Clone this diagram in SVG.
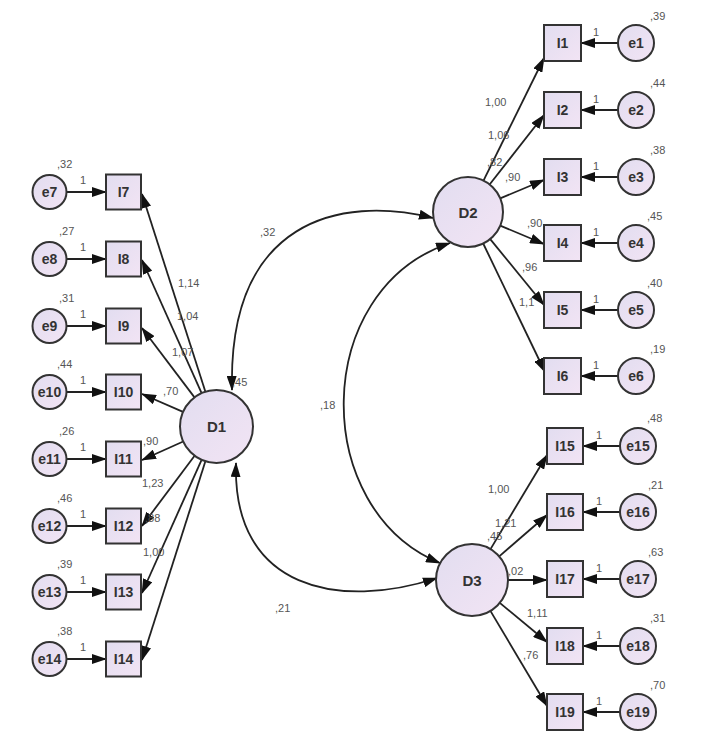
<svg xmlns="http://www.w3.org/2000/svg" width="713" height="737" viewBox="0 0 713 737">
<defs>
<linearGradient id="gf" x1="0" y1="0" x2="1" y2="1">
<stop offset="0" stop-color="#e2ddf0"/>
<stop offset="1" stop-color="#f2e4f4"/>
</linearGradient>
<marker id="ah" markerWidth="15" markerHeight="10" refX="14" refY="5" orient="auto" markerUnits="userSpaceOnUse">
<path d="M0,0 L15,5 L0,10 Z" fill="#111"/>
</marker>
<marker id="ahs" markerWidth="15" markerHeight="10" refX="1" refY="5" orient="auto" markerUnits="userSpaceOnUse">
<path d="M15,0 L0,5 L15,10 Z" fill="#111"/>
</marker>
<style>
.bx{fill:url(#gf);stroke:#333;stroke-width:2}
.ci{fill:url(#gf);stroke:#333;stroke-width:2}
.nl{font-family:"Liberation Sans",Arial,sans-serif;font-size:14px;font-weight:bold;fill:#333;text-anchor:middle;dominant-baseline:central}
.ll{font-family:"Liberation Sans",Arial,sans-serif;font-size:15px;font-weight:bold;fill:#333;text-anchor:middle;dominant-baseline:central}
.lb{font-family:"Liberation Sans",Arial,sans-serif;font-size:11px;fill:#555}
.cn{fill:none;stroke:#222;stroke-width:1.8;marker-end:url(#ah)}
.cv{fill:none;stroke:#222;stroke-width:1.8;marker-end:url(#ah);marker-start:url(#ahs)}
</style>
</defs>
<rect width="713" height="737" fill="#fff"/>

<g id="connectors">
<line class="cn" x1="205.4" y1="391.7" x2="142" y2="194"/>
<line class="cn" x1="201.6" y1="393.2" x2="142" y2="260"/>
<line class="cn" x1="194.5" y1="397.4" x2="142" y2="328"/>
<line class="cn" x1="183" y1="411.9" x2="142" y2="394"/>
<line class="cn" x1="183.2" y1="441.5" x2="142" y2="460"/>
<line class="cn" x1="194.6" y1="455.7" x2="142" y2="526"/>
<line class="cn" x1="201.6" y1="459.8" x2="142" y2="593"/>
<line class="cn" x1="205.4" y1="461.3" x2="142" y2="660"/>
<line class="cn" x1="66.5" y1="192" x2="106" y2="192"/>
<line class="cn" x1="66.5" y1="259" x2="106" y2="259"/>
<line class="cn" x1="66.5" y1="326" x2="106" y2="326"/>
<line class="cn" x1="66.5" y1="392" x2="106" y2="392"/>
<line class="cn" x1="66.5" y1="459" x2="106" y2="459"/>
<line class="cn" x1="66.5" y1="526" x2="106" y2="526"/>
<line class="cn" x1="66.5" y1="592" x2="106" y2="592"/>
<line class="cn" x1="66.5" y1="659" x2="106" y2="659"/>
<line class="cn" x1="483.5" y1="180.6" x2="544" y2="58"/>
<line class="cn" x1="489.6" y1="184.5" x2="544" y2="115"/>
<line class="cn" x1="500.2" y1="198.4" x2="544" y2="180"/>
<line class="cn" x1="500.2" y1="225.6" x2="544" y2="244"/>
<line class="cn" x1="490.2" y1="239.1" x2="544" y2="305"/>
<line class="cn" x1="483.2" y1="243.5" x2="545" y2="372"/>
<line class="cn" x1="490.5" y1="549.1" x2="547" y2="455"/>
<line class="cn" x1="499.2" y1="556.4" x2="547" y2="515"/>
<line class="cn" x1="508" y1="580" x2="547" y2="580"/>
<line class="cn" x1="499.8" y1="602.9" x2="547" y2="642"/>
<line class="cn" x1="490.4" y1="610.9" x2="547" y2="706"/>
<line class="cn" x1="618" y1="43" x2="581" y2="43"/>
<line class="cn" x1="618" y1="110" x2="581" y2="110"/>
<line class="cn" x1="618" y1="177" x2="581" y2="177"/>
<line class="cn" x1="618" y1="243" x2="581" y2="243"/>
<line class="cn" x1="618" y1="310" x2="581" y2="310"/>
<line class="cn" x1="618" y1="376" x2="581" y2="376"/>
<line class="cn" x1="620" y1="446" x2="583" y2="446"/>
<line class="cn" x1="620" y1="512" x2="583" y2="512"/>
<line class="cn" x1="620" y1="579" x2="583" y2="579"/>
<line class="cn" x1="620" y1="646" x2="583" y2="646"/>
<line class="cn" x1="620" y1="712" x2="583" y2="712"/>
<path class="cv" d="M232,390 C228,220 340,195 433,218"/>
<path class="cv" d="M236,463 C232,590 340,610 437,578"/>
<path class="cv" d="M450,243 C310,290 310,510 440,563"/>
</g>

<g id="labels">
<text class="lb" x="178" y="287">1,14</text>
<text class="lb" x="177" y="320">1,04</text>
<text class="lb" x="172" y="356">1,07</text>
<text class="lb" x="163" y="395">,70</text>
<text class="lb" x="143" y="445">,90</text>
<text class="lb" x="142" y="487">1,23</text>
<text class="lb" x="145" y="522">,88</text>
<text class="lb" x="143" y="556">1,00</text>
<text class="lb" x="232" y="386">,45</text>
<text class="lb" x="485" y="106">1,00</text>
<text class="lb" x="488" y="139">1,06</text>
<text class="lb" x="487" y="166">,82</text>
<text class="lb" x="505" y="181">,90</text>
<text class="lb" x="527" y="227">,90</text>
<text class="lb" x="522" y="271">,96</text>
<text class="lb" x="519" y="306">1,1</text>
<text class="lb" x="488" y="493">1,00</text>
<text class="lb" x="495" y="527">1,21</text>
<text class="lb" x="487" y="540">,45</text>
<text class="lb" x="508" y="575">,02</text>
<text class="lb" x="527" y="617">1,11</text>
<text class="lb" x="523" y="659">,76</text>
<text class="lb" x="260" y="236">,32</text>
<text class="lb" x="320" y="409">,18</text>
<text class="lb" x="275" y="612">,21</text>
<text class="lb" x="57" y="168">,32</text><text class="lb" x="80" y="184">1</text>
<text class="lb" x="59" y="235">,27</text><text class="lb" x="80" y="251">1</text>
<text class="lb" x="59" y="302">,31</text><text class="lb" x="80" y="318">1</text>
<text class="lb" x="57" y="368">,44</text><text class="lb" x="80" y="384">1</text>
<text class="lb" x="59" y="435">,26</text><text class="lb" x="80" y="451">1</text>
<text class="lb" x="57" y="502">,46</text><text class="lb" x="80" y="518">1</text>
<text class="lb" x="57" y="568">,39</text><text class="lb" x="80" y="584">1</text>
<text class="lb" x="57" y="635">,38</text><text class="lb" x="80" y="651">1</text>
<text class="lb" x="650" y="20">,39</text><text class="lb" x="593" y="36">1</text>
<text class="lb" x="650" y="87">,44</text><text class="lb" x="593" y="103">1</text>
<text class="lb" x="650" y="154">,38</text><text class="lb" x="593" y="170">1</text>
<text class="lb" x="647" y="220">,45</text><text class="lb" x="593" y="236">1</text>
<text class="lb" x="647" y="287">,40</text><text class="lb" x="593" y="303">1</text>
<text class="lb" x="650" y="353">,19</text><text class="lb" x="593" y="369">1</text>
<text class="lb" x="647" y="422">,48</text><text class="lb" x="596" y="439">1</text>
<text class="lb" x="648" y="489">,21</text><text class="lb" x="596" y="505">1</text>
<text class="lb" x="648" y="556">,63</text><text class="lb" x="596" y="572">1</text>
<text class="lb" x="650" y="622">,31</text><text class="lb" x="596" y="639">1</text>
<text class="lb" x="650" y="689">,70</text><text class="lb" x="596" y="705">1</text>
</g>

<g id="D1"><circle class="ci" cx="216.5" cy="426.5" r="36.5"/><text class="ll" x="216.5" y="426.5">D1</text></g>
<g id="D2"><circle class="ci" cx="468" cy="212" r="35"/><text class="ll" x="468" y="212">D2</text></g>
<g id="D3"><circle class="ci" cx="472" cy="580" r="36"/><text class="ll" x="472" y="580">D3</text></g>

<g id="I7"><rect class="bx" x="106" y="174.5" width="35" height="35"/><text class="nl" x="123.5" y="192">I7</text></g>
<g id="I8"><rect class="bx" x="106" y="241.5" width="35" height="35"/><text class="nl" x="123.5" y="259">I8</text></g>
<g id="I9"><rect class="bx" x="106" y="308.5" width="35" height="35"/><text class="nl" x="123.5" y="326">I9</text></g>
<g id="I10"><rect class="bx" x="106" y="374.5" width="35" height="35"/><text class="nl" x="123.5" y="392">I10</text></g>
<g id="I11"><rect class="bx" x="106" y="441.5" width="35" height="35"/><text class="nl" x="123.5" y="459">I11</text></g>
<g id="I12"><rect class="bx" x="106" y="508.5" width="35" height="35"/><text class="nl" x="123.5" y="526">I12</text></g>
<g id="I13"><rect class="bx" x="106" y="574.5" width="35" height="35"/><text class="nl" x="123.5" y="592">I13</text></g>
<g id="I14"><rect class="bx" x="106" y="641.5" width="35" height="35"/><text class="nl" x="123.5" y="659">I14</text></g>

<g id="e7"><circle class="ci" cx="49.5" cy="192" r="17"/><text class="nl" x="49.5" y="192">e7</text></g>
<g id="e8"><circle class="ci" cx="49.5" cy="259" r="17"/><text class="nl" x="49.5" y="259">e8</text></g>
<g id="e9"><circle class="ci" cx="49.5" cy="326" r="17"/><text class="nl" x="49.5" y="326">e9</text></g>
<g id="e10"><circle class="ci" cx="49.5" cy="392" r="17"/><text class="nl" x="49.5" y="392">e10</text></g>
<g id="e11"><circle class="ci" cx="49.5" cy="459" r="17"/><text class="nl" x="49.5" y="459">e11</text></g>
<g id="e12"><circle class="ci" cx="49.5" cy="526" r="17"/><text class="nl" x="49.5" y="526">e12</text></g>
<g id="e13"><circle class="ci" cx="49.5" cy="592" r="17"/><text class="nl" x="49.5" y="592">e13</text></g>
<g id="e14"><circle class="ci" cx="49.5" cy="659" r="17"/><text class="nl" x="49.5" y="659">e14</text></g>

<g id="I1"><rect class="bx" x="544" y="25" width="37" height="36"/><text class="nl" x="562.5" y="43">I1</text></g>
<g id="I2"><rect class="bx" x="544" y="92" width="37" height="36"/><text class="nl" x="562.5" y="110">I2</text></g>
<g id="I3"><rect class="bx" x="544" y="159" width="37" height="36"/><text class="nl" x="562.5" y="177">I3</text></g>
<g id="I4"><rect class="bx" x="544" y="225" width="37" height="36"/><text class="nl" x="562.5" y="243">I4</text></g>
<g id="I5"><rect class="bx" x="544" y="292" width="37" height="36"/><text class="nl" x="562.5" y="310">I5</text></g>
<g id="I6"><rect class="bx" x="544" y="358" width="37" height="36"/><text class="nl" x="562.5" y="376">I6</text></g>
<g id="I15"><rect class="bx" x="547" y="428" width="36" height="36"/><text class="nl" x="565" y="446">I15</text></g>
<g id="I16"><rect class="bx" x="547" y="494" width="36" height="36"/><text class="nl" x="565" y="512">I16</text></g>
<g id="I17"><rect class="bx" x="547" y="561" width="36" height="36"/><text class="nl" x="565" y="579">I17</text></g>
<g id="I18"><rect class="bx" x="547" y="628" width="36" height="36"/><text class="nl" x="565" y="646">I18</text></g>
<g id="I19"><rect class="bx" x="547" y="694" width="36" height="36"/><text class="nl" x="565" y="712">I19</text></g>

<g id="e1"><circle class="ci" cx="636" cy="43" r="18"/><text class="nl" x="636" y="43">e1</text></g>
<g id="e2"><circle class="ci" cx="636" cy="110" r="18"/><text class="nl" x="636" y="110">e2</text></g>
<g id="e3"><circle class="ci" cx="636" cy="177" r="18"/><text class="nl" x="636" y="177">e3</text></g>
<g id="e4"><circle class="ci" cx="636" cy="243" r="18"/><text class="nl" x="636" y="243">e4</text></g>
<g id="e5"><circle class="ci" cx="636" cy="310" r="18"/><text class="nl" x="636" y="310">e5</text></g>
<g id="e6"><circle class="ci" cx="636" cy="376" r="18"/><text class="nl" x="636" y="376">e6</text></g>
<g id="e15"><circle class="ci" cx="638" cy="446" r="18"/><text class="nl" x="638" y="446">e15</text></g>
<g id="e16"><circle class="ci" cx="638" cy="512" r="18"/><text class="nl" x="638" y="512">e16</text></g>
<g id="e17"><circle class="ci" cx="638" cy="579" r="18"/><text class="nl" x="638" y="579">e17</text></g>
<g id="e18"><circle class="ci" cx="638" cy="646" r="18"/><text class="nl" x="638" y="646">e18</text></g>
<g id="e19"><circle class="ci" cx="638" cy="712" r="18"/><text class="nl" x="638" y="712">e19</text></g>
</svg>
